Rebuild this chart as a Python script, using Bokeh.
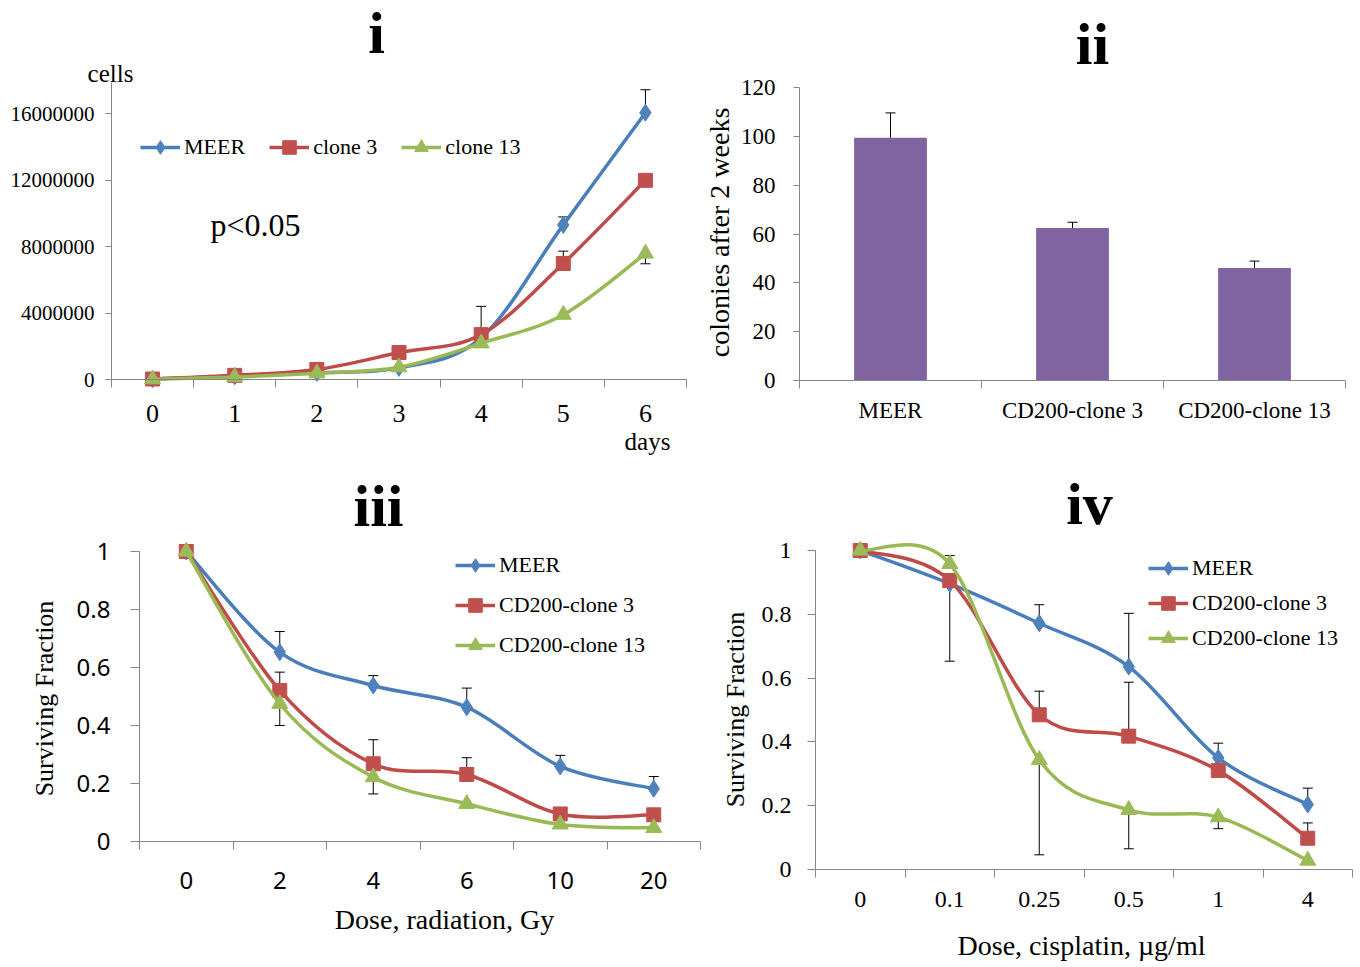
import numpy as np
from bokeh.plotting import figure
from bokeh.models import FixedTicker, Range1d, Label, Legend, LegendItem
from bokeh.layouts import column, row
from bokeh.embed import file_html
from bokeh.resources import INLINE

SERIF = "Liberation Serif"
SANS = "Noto Sans"
AXIS_GRAY = "#868686"

# ---------------- data ----------------
# panel i : growth curves
days = ["0", "1", "2", "3", "4", "5", "6"]
growth_meer = [30000, 200000, 400000, 700000, 2500000, 9300000, 16050000]
growth_clone3 = [30000, 250000, 600000, 1620000, 2700000, 6980000, 11980000]
growth_clone13 = [20000, 150000, 380000, 740000, 2180000, 3900000, 7580000]
growth_meer_err_up = [0, 0, 0, 0, 1900000, 480000, 1380000]
growth_clone3_err_up = [0, 0, 0, 0, 0, 740000, 0]
growth_clone13_err_down = [0, 0, 0, 0, 0, 0, 620000]
growth_yticks = [0, 4000000, 8000000, 12000000, 16000000]

# panel ii : colonies
colony_groups = ["MEER", "CD200-clone 3", "CD200-clone 13"]
colony_counts = [99.4, 62.5, 46.1]
colony_err = [10.2, 2.3, 2.8]
colony_yticks = [0, 20, 40, 60, 80, 100, 120]

# panel iii : radiation
rad_doses = ["0", "2", "4", "6", "10", "20"]
rad_meer = [1.0, 0.653, 0.538, 0.463, 0.259, 0.182]
rad_clone3 = [1.0, 0.521, 0.268, 0.231, 0.095, 0.092]
rad_clone13 = [1.0, 0.475, 0.222, 0.130, 0.059, 0.047]
rad_meer_err_up = [0, 0.071, 0.034, 0.066, 0.038, 0.042]
rad_clone3_err_up = [0, 0.063, 0.083, 0.058, 0.020, 0]
rad_clone13_err_down = [0, 0.075, 0.058, 0, 0, 0]
sf_yticks = [0, 0.2, 0.4, 0.6, 0.8, 1]

# panel iv : cisplatin
cis_doses = ["0", "0.1", "0.25", "0.5", "1", "4"]
cis_meer = [1.0, 0.896, 0.772, 0.636, 0.350, 0.204]
cis_clone3 = [1.0, 0.906, 0.485, 0.418, 0.310, 0.098]
cis_clone13 = [1.0, 0.958, 0.344, 0.187, 0.164, 0.028]
cis_meer_err_up = [0, 0, 0.058, 0.167, 0.046, 0.051]
cis_meer_err_down = [0, 0.243, 0, 0, 0, 0]
cis_clone3_err_up = [0, 0, 0.074, 0.169, 0, 0.048]
cis_clone13_err_up = [0, 0.026, 0, 0, 0, 0]
cis_clone13_err_down = [0, 0, 0.298, 0.122, 0.036, 0]

# ---------------- styles ----------------
STY = {
    "MEER": dict(line="#4A7EBB", fill="#4F81BD", marker="diamond", size=17),
    "c3": dict(line="#BE4B48", fill="#C0504D", marker="square", size=14),
    "c13": dict(line="#98B954", fill="#9BBB59", marker="triangle", size=16),
}
BAR_COLOR = "#8064A2"


def make_panel(W, H, ox, oy, axis_x, ux, axis_y, uy, ncat, ytop):
    """Frame fills the whole figure; axes sit at fixed data locations."""
    lx, ly = axis_x - ox, axis_y - oy
    xr = (-0.5 - lx / ux, -0.5 + (W - lx) / ux)
    yr = (-(H - ly) / uy, ly / uy)
    p = figure(width=W, height=H, title=None,
               x_range=Range1d(*xr), y_range=Range1d(*yr),
               output_backend="svg", toolbar_location=None, min_border=0,
               background_fill_color="white", border_fill_color="white",
               outline_line_color=None)
    p.xgrid.visible = False
    p.ygrid.visible = False
    p.xaxis.fixed_location = 0
    p.xaxis.bounds = (-0.5, ncat - 0.5)
    p.yaxis.fixed_location = -0.5
    p.yaxis.bounds = (0, ytop)

    def to_data(X, Y):
        return (-0.5 + (X - axis_x) / ux, (axis_y - Y) / uy)
    return p, to_data, (ox, oy)


def style_x(p, labels, font, size, standoff):
    n = len(labels)
    ax = p.xaxis[0]
    ax.ticker = FixedTicker(ticks=list(range(n)),
                            minor_ticks=[k - 0.5 for k in range(n + 1)])
    ax.major_label_overrides = {k: lab for k, lab in enumerate(labels)}
    ax.major_tick_in = 0
    ax.major_tick_out = 0
    ax.major_tick_line_color = None
    ax.minor_tick_in = 0
    ax.minor_tick_out = 8
    ax.minor_tick_line_color = AXIS_GRAY
    ax.axis_line_color = AXIS_GRAY
    ax.major_label_text_font = font
    ax.major_label_text_font_size = f"{size}px"
    ax.major_label_text_color = "black"
    ax.major_label_standoff = standoff


def style_y(p, ticks, font, size, standoff, tick_out):
    ax = p.yaxis[0]
    ax.ticker = FixedTicker(ticks=ticks, minor_ticks=[])
    ax.major_label_overrides = {t: (f"{t:g}" if t < 1000 else str(int(t))) for t in ticks}
    ax.major_tick_in = 0
    ax.major_tick_out = tick_out
    ax.major_tick_line_color = AXIS_GRAY
    ax.minor_tick_line_color = None
    ax.axis_line_color = AXIS_GRAY
    ax.major_label_text_font = font
    ax.major_label_text_font_size = f"{size}px"
    ax.major_label_text_color = "black"
    ax.major_label_standoff = standoff


def text(pan, X, Y, s, size, bold=False, angle=0.0):
    """(X, Y): page position of the text's middle."""
    p, to_data, _ = pan
    x, y = to_data(X, Y)
    p.add_layout(Label(x=x, y=y, text=s, text_font=SERIF,
                       text_font_size=f"{size}px",
                       text_font_style="bold" if bold else "normal",
                       text_align="center", text_baseline="middle",
                       angle=angle, text_color="black"))


def error_bars(p, ys, up=None, down=None):
    xs = list(range(len(ys)))
    for errs, sign in ((up, 1), (down, -1)):
        if errs is None:
            continue
        bx = [x for x, e in zip(xs, errs) if e > 0]
        by = [y for y, e in zip(ys, errs) if e > 0]
        be = [y + sign * e for y, e in zip(ys, errs) if e > 0]
        if not bx:
            continue
        p.segment(x0=bx, y0=by, x1=bx, y1=be, line_color="black", line_width=1)
        p.scatter(x=bx, y=be, marker="dash", size=10, line_color="black", line_width=1)


def series(p, ys, key):
    st = STY[key]
    xs = np.arange(len(ys), dtype=float)
    P = np.column_stack([xs, np.asarray(ys, dtype=float)])
    prev = np.vstack([P[:1], P[:-1]])
    nxt = np.vstack([P[1:], P[-1:]])
    tang = (nxt - prev) / 6.0
    c0 = P[:-1] + tang[:-1]
    c1 = P[1:] - tang[1:]
    p.bezier(x0=P[:-1, 0], y0=P[:-1, 1], x1=P[1:, 0], y1=P[1:, 1],
             cx0=c0[:, 0], cy0=c0[:, 1], cx1=c1[:, 0], cy1=c1[:, 1],
             line_color=st["line"], line_width=3.5, line_cap="round")
    # single-point line: draws nothing on the plot, gives the legend its line
    key_line = p.line(x=[xs[0]], y=[ys[0]], line_color=st["line"], line_width=3.5)
    sc = p.scatter(x=xs, y=ys, marker=st["marker"], size=st["size"],
                   fill_color=st["fill"], line_color=st["fill"])
    return [key_line, sc]


def legend(pan, items, X_left, Y_bottom, orientation, spacing, size=22):
    p, _, (ox, oy) = pan
    H = p.height
    lg = Legend(items=[LegendItem(label=l, renderers=r) for l, r in items],
                location=(X_left - ox, H - (Y_bottom - oy)), orientation=orientation,
                glyph_width=40, glyph_height=34, label_height=34,
                label_standoff=4, spacing=spacing, padding=0, margin=0,
                border_line_color=None, background_fill_alpha=0,
                label_text_font=SERIF, label_text_font_size=f"{size}px",
                label_text_color="black")
    p.add_layout(lg)


# ---------------- panel i ----------------
A = make_panel(688, 468, 0, 0, 111, 575 / 7, 379, 266 / 16e6, 7, 17.86e6)
p1 = A[0]
style_x(p1, days, SERIF, 26, 17)
style_y(p1, growth_yticks, SERIF, 21, 11, 6)
error_bars(p1, growth_meer, up=growth_meer_err_up)
error_bars(p1, growth_clone3, up=growth_clone3_err_up)
error_bars(p1, growth_clone13, down=growth_clone13_err_down)
r1 = series(p1, growth_meer, "MEER")
r2 = series(p1, growth_clone3, "c3")
r3 = series(p1, growth_clone13, "c13")
legend(A, [("MEER", r1), ("clone 3", r2), ("clone 13", r3)], 140, 164, "horizontal", 24)
text(A, 376, 32, "i", 60, bold=True)
text(A, 110, 73, "cells", 25)
text(A, 647, 441, "days", 25)
text(A, 255, 224, "p<0.05", 32)

# ---------------- panel ii ----------------
B = make_panel(672, 468, 688, 0, 799, 546 / 3, 380, 293 / 120, 3, 120)
p2 = B[0]
style_x(p2, colony_groups, SERIF, 23, 9)
style_y(p2, colony_yticks, SERIF, 23, 18, 6)
p2.vbar(x=list(range(len(colony_counts))), top=colony_counts, width=0.4,
        fill_color=BAR_COLOR, line_color=None)
error_bars(p2, colony_counts, up=colony_err)
text(B, 1092, 43, "ii", 60, bold=True)
text(B, 719, 232, "colonies after 2 weeks", 28, angle=np.pi / 2)

# ---------------- panel iii ----------------
C = make_panel(708, 497, 0, 468, 139, 561 / 6, 841, 290, 6, 1)
p3 = C[0]
style_x(p3, rad_doses, SANS, 24, 22)
style_y(p3, sf_yticks, SANS, 24, 20, 9)
error_bars(p3, rad_meer, up=rad_meer_err_up)
error_bars(p3, rad_clone3, up=rad_clone3_err_up)
error_bars(p3, rad_clone13, down=rad_clone13_err_down)
s1 = series(p3, rad_meer, "MEER")
s2 = series(p3, rad_clone3, "c3")
s3 = series(p3, rad_clone13, "c13")
legend(C, [("MEER", s1), ("CD200-clone 3", s2), ("CD200-clone 13", s3)], 455, 662, "vertical", 6)
text(C, 378, 505, "iii", 60, bold=True)
text(C, 44, 698, "Surviving Fraction", 26, angle=np.pi / 2)
text(C, 444, 919, "Dose, radiation, Gy", 28)

# ---------------- panel iv ----------------
D = make_panel(652, 497, 708, 468, 815, 537 / 6, 869, 319, 6, 1)
p4 = D[0]
style_x(p4, cis_doses, SERIF, 24, 14)
style_y(p4, sf_yticks, SERIF, 24, 16, 8)
error_bars(p4, cis_meer, up=cis_meer_err_up, down=cis_meer_err_down)
error_bars(p4, cis_clone3, up=cis_clone3_err_up)
error_bars(p4, cis_clone13, up=cis_clone13_err_up, down=cis_clone13_err_down)
t1 = series(p4, cis_meer, "MEER")
t2 = series(p4, cis_clone3, "c3")
t3 = series(p4, cis_clone13, "c13")
legend(D, [("MEER", t1), ("CD200-clone 3", t2), ("CD200-clone 13", t3)], 1148, 655, "vertical", 1)
text(D, 1089, 503, "iv", 60, bold=True)
text(D, 735, 709, "Surviving Fraction", 26, angle=np.pi / 2)
text(D, 1081, 945, "Dose, cisplatin, µg/ml", 28)

layout = column(row(p1, p2), row(p3, p4))
open("out.html", "w").write(file_html(layout, INLINE))
